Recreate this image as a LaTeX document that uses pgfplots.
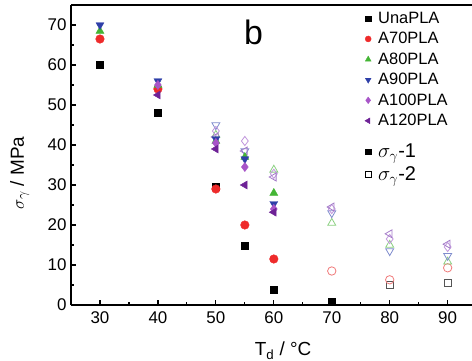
\documentclass[border=0pt]{standalone}
\usepackage{fontspec}
\setmainfont{Liberation Sans}
\usepackage{pgfplots}
\pgfplotsset{compat=1.18}
\definecolor{cRed}{HTML}{EE2B2B}
\definecolor{cGreen}{HTML}{44B535}
\definecolor{cBlue}{HTML}{2E3FA8}
\definecolor{cDia}{HTML}{A855C8}
\definecolor{cLeft}{HTML}{6E2296}
\definecolor{hRed}{HTML}{F07A7A}
\definecolor{hGreen}{HTML}{8ACF80}
\definecolor{hBlue}{HTML}{7F8CCD}
\definecolor{hDia}{HTML}{C096DC}
\definecolor{hLeft}{HTML}{A37AC8}
\definecolor{hBlack}{HTML}{555555}
\begin{document}
\begin{tikzpicture}
\useasboundingbox (-71bp,-56bp) rectangle (401bp,305bp);
\begin{axis}[
  at={(0,0)}, anchor=south west,
  scale only axis, width=401bp, height=300bp,
  xmin=25, xmax=94.2, ymin=0, ymax=75,
  axis lines*=left,
  axis line style={line width=1.4pt},
  tick align=inside,
  xtick={30,40,...,90}, minor x tick num=1,
  ytick={0,10,...,70}, minor y tick num=1,
  major tick length=5bp, minor tick length=3bp,
  every tick/.style={black, line width=1.2pt},
  tick label style={font=\fontsize{17}{20}\selectfont},
  xticklabel style={yshift=-3bp},
  yticklabel style={xshift=-1bp},
  /pgf/number format/assume math mode=true,
  xlabel={T\textsubscript{d} / °C},
  ylabel={$\sigma_\gamma$ / MPa},
  label style={font=\fontsize{19}{22}\selectfont},
  x label style={at={(axis description cs:0.529,-0.152)}, anchor=center},
  y label style={at={(axis description cs:-0.128,0.44)}, anchor=center},
  legend style={draw=none, fill=none, at={(0.712,0.99)}, anchor=north west,
    font=\fontsize{16.5}{19}\selectfont, row sep=3.5bp, column sep=5bp},
  legend cell align=left,
  clip=false,
]
% legend
\addlegendimage{only marks, mark=square*, black, mark size=2.6bp}
\addlegendentry{UnaPLA}
\addlegendimage{only marks, mark=*, cRed, mark size=3bp}
\addlegendentry{A70PLA}
\addlegendimage{only marks, mark=triangle*, cGreen, mark size=3.3bp}
\addlegendentry{A80PLA}
\addlegendimage{only marks, mark=triangle*, mark options={rotate=180}, cBlue, mark size=3.3bp}
\addlegendentry{A90PLA}
\addlegendimage{only marks, mark=diamond*, cDia, mark size=3.3bp}
\addlegendentry{A100PLA}
\addlegendimage{only marks, mark=triangle*, mark options={rotate=90}, cLeft, mark size=3.3bp}
\addlegendentry{A120PLA}
\addlegendimage{empty legend}
\addlegendentry{}
\addlegendimage{only marks, mark=square*, black, mark size=2.6bp}
\addlegendentry{\fontsize{20}{20}\selectfont$\sigma_\gamma$-1}
\addlegendimage{only marks, mark=square, black, mark size=2.6bp}
\addlegendentry{\fontsize{20}{20}\selectfont$\sigma_\gamma$-2}

% hollow (sigma_gamma-2)
\addplot[forget plot, only marks, mark=square, hBlack, mark size=3.5bp, thick] coordinates {(80,5.0) (90,5.6)};
\addplot[forget plot, only marks, mark=o, hRed, mark size=4.2bp, thick] coordinates {(70,8.5) (80,6.3) (90,9.3)};
\addplot[forget plot, only marks, mark=triangle, hGreen, mark size=4.6bp, thick] coordinates {(50,42.5) (60,33.8) (70,20.5) (80,15.0) (90,10.8)};
\addplot[forget plot, only marks, mark=triangle, mark options={rotate=180}, hBlue, mark size=4.6bp, thick] coordinates {(50,45.0) (55,38.5) (70,23.0) (80,13.5) (90,12.3)};
\addplot[forget plot, only marks, mark=diamond, hDia, mark size=4.6bp, thick] coordinates {(50,43.5) (55,41.0) (60,32.8) (70,24.0) (80,16.5) (90,14.5)};
\addplot[forget plot, only marks, mark=triangle, mark options={rotate=90}, hLeft, mark size=4.6bp, thick] coordinates {(50,42.0) (55,38.5) (60,32.0) (70,24.5) (80,17.8) (90,15.2)};

% filled (sigma_gamma-1)
\addplot[forget plot, only marks, mark=square*, black, mark size=3.6bp] coordinates {(30,60) (40,48) (50,29.5) (55,14.8) (60,3.8) (70,0.8)};
\addplot[forget plot, only marks, mark=*, cRed, mark size=4.3bp] coordinates {(30,66.5) (40,54) (50,29) (55,20) (60,11.5)};
\addplot[forget plot, only marks, mark=triangle*, cGreen, mark size=4.6bp] coordinates {(30,68.5) (40,55) (50,41) (55,37) (60,28)};
\addplot[forget plot, only marks, mark=triangle*, mark options={rotate=180}, cBlue, mark size=4.6bp] coordinates {(30,70) (40,56) (50,41.5) (55,36.5) (60,25.3)};
\addplot[forget plot, only marks, mark=diamond*, cDia, mark size=4.6bp] coordinates {(40,55) (50,40.5) (55,34.5) (60,24)};
\addplot[forget plot, only marks, mark=triangle*, mark options={rotate=90}, cLeft, mark size=4.6bp] coordinates {(40,52.5) (50,39) (55,30) (60,23.2)};

\draw[line width=1.4pt] (rel axis cs:0,1) -- (rel axis cs:1,1);
\node[font=\fontsize{34}{34}\selectfont] at (axis cs:56.5,68.2) {b};
\end{axis}
\end{tikzpicture}
\end{document}
